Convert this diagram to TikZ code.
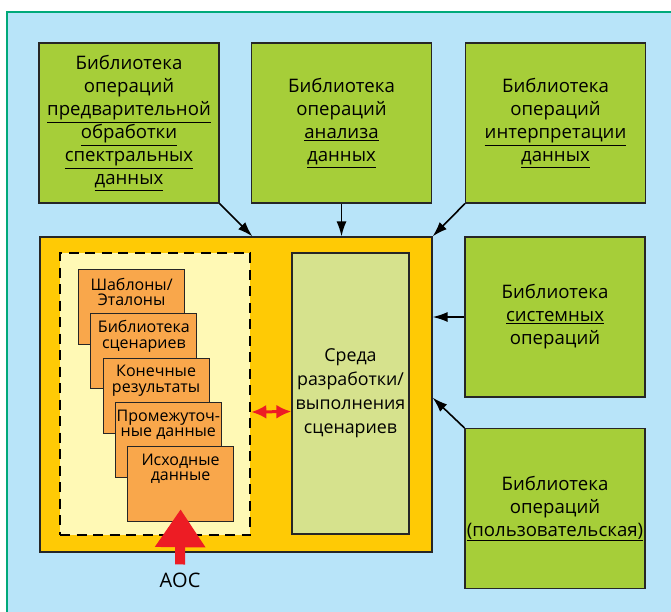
\documentclass[tikz,border=0pt]{standalone}
\usepackage{fontspec}
\setmainfont{Open Sans}
\usetikzlibrary{arrows.meta}
\definecolor{skyblue}{HTML}{B8E4F9}
\definecolor{framegreen}{HTML}{00A97A}
\definecolor{libgreen}{HTML}{A6CE39}
\definecolor{mainorange}{HTML}{FFCA05}
\definecolor{cream}{HTML}{FFF9B5}
\definecolor{cardorange}{HTML}{F9A74B}
\definecolor{envgreen}{HTML}{D6E28D}
\definecolor{signalred}{HTML}{ED1C24}

\begin{document}
\begin{tikzpicture}[x=1pt,y=1pt]
\tikzstyle{every node}+=[inner sep=0pt]
\tikzstyle{lib}=[draw=black!85, line width=1.2pt, fill=libgreen, minimum width=180pt, minimum height=160pt, align=center, font=\fontsize{18.6}{23}\selectfont]
\tikzstyle{mainbox}=[draw=black!85, line width=1.2pt, fill=mainorange, minimum width=392pt, minimum height=315pt]
\tikzstyle{store}=[draw=black, line width=2.6pt, dash pattern=on 10pt off 6.5pt, fill=cream, minimum width=190pt, minimum height=282pt]
\tikzstyle{env}=[draw=black!85, line width=1.2pt, fill=envgreen, minimum width=117pt, minimum height=281pt, align=center, font=\fontsize{17.8}{24}\selectfont]
\tikzstyle{card}=[draw=black!85, line width=1.2pt, fill=cardorange, minimum width=106pt, minimum height=75pt]
\tikzstyle{cardtext}=[align=center, font=\fontsize{16}{15.5}\selectfont]
\tikzstyle{feed}=[black, line width=1.6pt, -{Latex[length=15pt,width=10pt]}]
\tikzstyle{twoway}=[signalred, line width=3pt, {Latex[length=15pt,width=14pt]}-{Latex[length=15pt,width=14pt]}]
\tikzstyle{bigred}=[signalred, line width=10pt, -{Triangle[length=38pt,width=48pt]}]
\clip (0,0) rectangle (671,-611);
\fill [skyblue] (7,-12) rectangle (700,-640);
\draw [framegreen, line width=2.5pt] (7,-640) -- (7,-12) -- (700,-12);

\node [lib] (prep) at (129,-123) {Библиотека\\операций\\\underline{предварительной}\\\underline{обработки}\\\underline{спектральных}\\\underline{данных}};
\node [lib] (anal) at (341.5,-123) {Библиотека\\операций\\\underline{анализа}\\\underline{данных}};
\node [lib] (interp) at (555.5,-123) {Библиотека\\операций\\\underline{интерпретации}\\\underline{данных}};
\node [lib] (sys) at (555,-317) {Библиотека\\\underline{системных}\\операций};
\node [lib] (user) at (555,-508.5) {Библиотека\\операций\\\underline{(пользовательская)}};

\node [mainbox] (main) at (236,-394.5) {};
\node [store] (stor) at (155,-394) {};
\node [env] (env) at (350.5,-393.5) {Среда\\разработки/\\выполнения\\сценариев};
\foreach \i/\txt in {0/{Шаблоны/\\Эталоны},1/{Библиотека\\сценариев},2/{Конечные\\результаты},3/{Промежуточ-\\ные данные},4/{Исходные\\данные}} {
  \node [card, anchor=north west] (card\i) at (78+12.25*\i,-269-44.25*\i) {};
  \node [cardtext] (cardtxt\i) at ([yshift=-23pt]card\i.north) {\txt};
}

\draw [feed] (prep.south east) -- ([xshift=213pt]main.north west);
\draw [feed] (anal.south) -- (anal.south |- main.north);
\draw [feed] (interp.south west) -- (main.north east);
\draw [feed] (sys.west) -- (sys.west -| main.east);
\draw [feed] (user.north west) -- (main.east |- sys.south);
\draw [twoway] ([yshift=-18pt]stor.east) -- ([yshift=-18pt]env.west);

\node [font=\fontsize{20}{20}\selectfont] (aoc) at (180,-580) {АОС};
\draw [bigred] ([yshift=8pt]aoc.north) -- ([yshift=13pt]card4.south);
\end{tikzpicture}
\end{document}
